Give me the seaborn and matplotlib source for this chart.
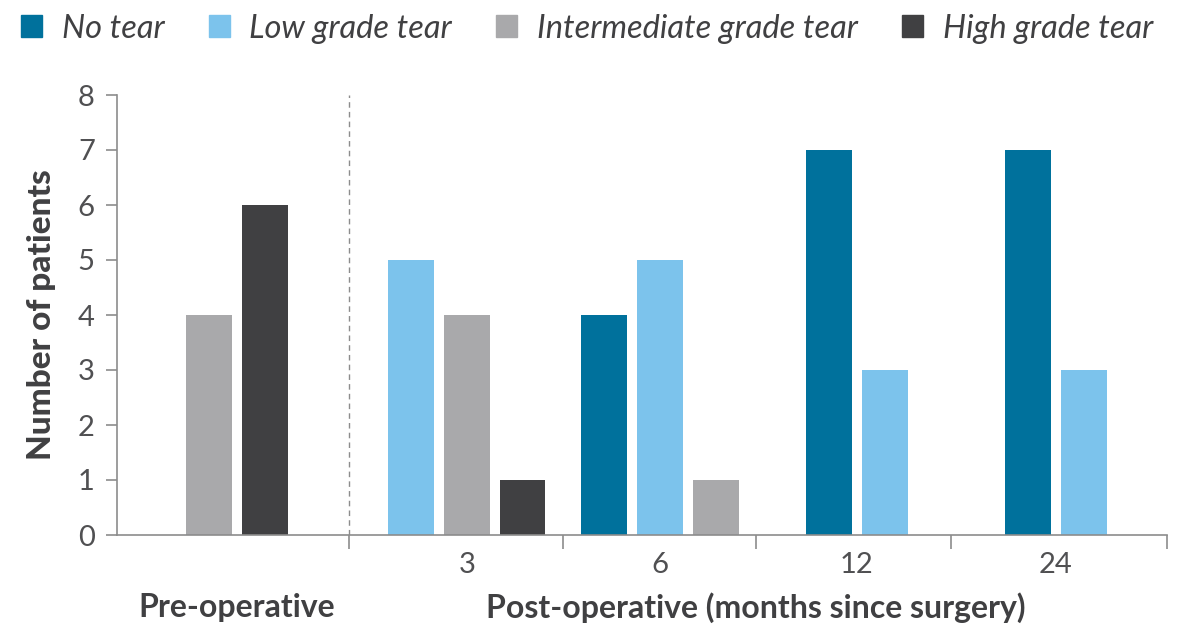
import numpy as np
import pandas as pd
import matplotlib
matplotlib.use("Agg")
import matplotlib.pyplot as plt
import seaborn as sns

# data
groups = ["Pre-operative", "3", "6", "12", "24"]
tears = ["No tear", "Low grade tear", "Intermediate grade tear", "High grade tear"]
no_tear = [0, 0, 4, 7, 7]
low_grade = [0, 5, 5, 3, 3]
intermediate_grade = [4, 4, 1, 0, 0]
high_grade = [6, 1, 0, 0, 0]
colors = ["#00719c", "#7cc3ec", "#a9a9ab", "#404042"]

# layout (units = spacing between neighbouring bars)
group_centers = [2.15, 6.27, 9.73, 13.26, 16.83]
group_edges = [4.16, 7.99, 11.45, 14.95, 18.82]

series = [no_tear, low_grade, intermediate_grade, high_grade]
rows = []
for g, center in enumerate(group_centers):
    present = [(t, s[g]) for t, s in zip(tears, series) if s[g] > 0]
    offsets = np.arange(len(present)) - (len(present) - 1) / 2
    for (t, v), off in zip(present, offsets):
        rows.append({"pos": center + off, "count": v, "tear": t})
df = pd.DataFrame(rows)

sns.set_style("white")
plt.rcParams["font.family"] = ["Lato", "DejaVu Sans"]
text_color = "#404042"
axis_color = "#8c8c8c"

fig = plt.figure(figsize=(11.87, 6.27), dpi=100)
ax = fig.add_axes([117 / 1187, 1 - 535 / 627, 1050 / 1187, 440 / 627])

sns.barplot(data=df, x="pos", y="count", hue="tear", hue_order=tears,
            palette=colors, native_scale=True, dodge=False, width=0.82,
            saturation=1, linewidth=0, ax=ax, legend=False)

ax.set_xlim(0, group_edges[-1])
ax.set_ylim(0, 8)
ax.set_xlabel("")
ax.set_ylabel("Number of patients", fontsize=24, fontweight="black",
              color=text_color, labelpad=16)

for side in ["top", "right"]:
    ax.spines[side].set_visible(False)
for side in ["left", "bottom"]:
    ax.spines[side].set_color(axis_color)
    ax.spines[side].set_linewidth(1.2)

ax.set_yticks(range(0, 9))
ax.tick_params(axis="y", direction="out", length=8, width=1.2, color=axis_color,
               labelsize=21, labelcolor="#505052", pad=8, left=True)

# boundary ticks, labels at group centres
ax.set_xticks(group_edges)
ax.set_xticklabels([])
ax.tick_params(axis="x", which="major", direction="out", length=10, width=1.2,
               color=axis_color, bottom=True)
ax.set_xticks(group_centers[1:], minor=True)
ax.set_xticklabels(groups[1:], minor=True, fontsize=21, color="#505052")
ax.tick_params(axis="x", which="minor", length=0, pad=12)

ax.axvline(group_edges[0], ymin=0, ymax=1, color=axis_color, lw=1, ls=(0, (4, 3)))

fig.text(group_centers[0] / group_edges[-1] * 1050 / 1187 + 117 / 1187, 1 - 608 / 627,
         groups[0], ha="center", va="center", fontsize=23, fontweight="bold",
         color=text_color)
fig.text(756 / 1187, 1 - 608 / 627, "Post-operative (months since surgery)",
         ha="center", va="center", fontsize=23, fontweight="bold", color=text_color)

handles = [plt.Rectangle((0, 0), 1, 1, color=c) for c in colors]
leg = fig.legend(handles, tears, loc="upper left", bbox_to_anchor=(-0.007, 1.025),
                 ncol=4, frameon=False, prop={"size": 23.5, "style": "italic"},
                 handlelength=0.65, handleheight=0.65, handletextpad=0.6,
                 columnspacing=1.35)
for t in leg.get_texts():
    t.set_color(text_color)

fig.savefig("out.png", dpi=100)
